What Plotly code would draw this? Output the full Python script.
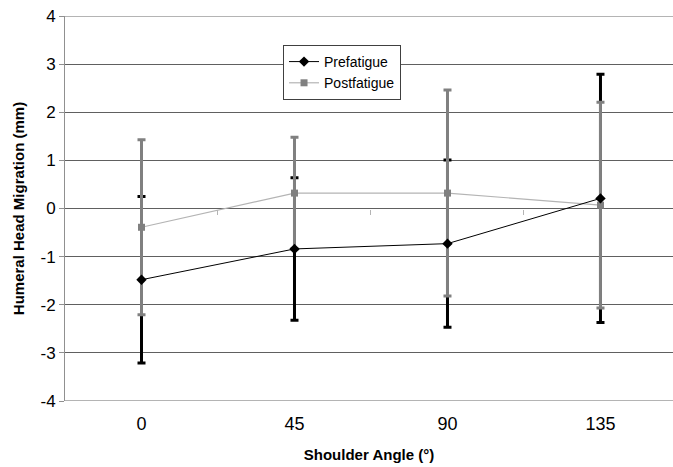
import plotly.graph_objects as go

categories = ["0", "45", "90", "135"]
pre_mean = [-1.48, -0.84, -0.73, 0.21]
pre_err = [1.73, 1.48, 1.74, 2.58]
post_mean = [-0.39, 0.32, 0.32, 0.07]
post_err = [1.82, 1.16, 2.14, 2.14]
y_ticks = [-4, -3, -2, -1, 0, 1, 2, 3, 4]
y_tick_labels = ["-4", "-3", "-2", "-1", "0", "1", "2", "3", "4"]

xpos = list(range(len(categories)))
FONT = "Arial, Liberation Sans, sans-serif"
BLACK = "#000000"
GRAY = "#808080"
LIGHT = "#b4b4b4"

fig = go.Figure()

# error bars (drawn first: black behind gray)
fig.add_trace(go.Scatter(
    x=xpos, y=pre_mean, mode="markers", marker=dict(opacity=0, size=1),
    error_y=dict(type="data", array=pre_err, visible=True, color=BLACK, thickness=3, width=4),
    showlegend=False, hoverinfo="skip"))
fig.add_trace(go.Scatter(
    x=xpos, y=post_mean, mode="markers", marker=dict(opacity=0, size=1),
    error_y=dict(type="data", array=post_err, visible=True, color=GRAY, thickness=3, width=4),
    showlegend=False, hoverinfo="skip"))

# lines + markers
fig.add_trace(go.Scatter(
    x=xpos, y=post_mean, mode="lines+markers", name="Postfatigue",
    line=dict(color=LIGHT, width=1.2),
    marker=dict(symbol="square", size=7, color=GRAY), legendrank=2))
fig.add_trace(go.Scatter(
    x=xpos, y=pre_mean, mode="lines+markers", name="Prefatigue",
    line=dict(color=BLACK, width=1),
    marker=dict(symbol="diamond", size=8, color=BLACK), legendrank=1))

# invisible trace for secondary axis at y=0 (category boundary ticks)
fig.add_trace(go.Scatter(x=[0], y=[0], xaxis="x2", mode="markers",
                         marker=dict(opacity=0), showlegend=False, hoverinfo="skip"))

xr = [-0.5, 3.474]
fig.update_layout(
    width=673, height=467,
    margin=dict(l=65, r=0, t=16, b=66),
    paper_bgcolor="white", plot_bgcolor="white",
    font=dict(family=FONT, color="#000000"),
    xaxis=dict(
        range=xr, tickvals=xpos, ticktext=categories,
        tickfont=dict(size=18, family=FONT), ticks="", showgrid=False,
        zeroline=False, showline=False, ticklabelstandoff=10,
        title=dict(text="<b>Shoulder Angle (°)</b>", font=dict(size=15, family=FONT), standoff=16),
    ),
    xaxis2=dict(
        range=xr, overlaying="x", anchor="free", position=0.5,
        tickvals=[0.5, 1.5, 2.5], ticks="outside", ticklen=5, tickcolor=LIGHT, tickwidth=1,
        showticklabels=False, showgrid=False, zeroline=False, showline=False,
    ),
    yaxis=dict(
        range=[-4, 4], tickvals=y_ticks, ticktext=y_tick_labels,
        tickfont=dict(size=17, family=FONT),
        showgrid=True, gridcolor="#606060", gridwidth=1,
        zeroline=False, showline=True, linecolor="#909090", linewidth=1,
        ticks="outside", ticklen=5, tickcolor="#909090",
        title=dict(text="<b>Humeral Head Migration (mm)</b>", font=dict(size=15, family=FONT), standoff=12),
    ),
    legend=dict(
        x=0.3586, y=0.9247, xanchor="left", yanchor="top",
        bordercolor="#404040", borderwidth=1, bgcolor="white",
        font=dict(size=14, family=FONT), itemwidth=30, tracegroupgap=0,
    ),
    shapes=[
        dict(type="line", xref="paper", yref="y", x0=0, x1=1, y0=4, y1=4,
             line=dict(color=LIGHT, width=2), layer="above"),
        dict(type="line", xref="paper", yref="y", x0=0, x1=1, y0=-4, y1=-4,
             line=dict(color=LIGHT, width=2), layer="above"),
    ],
)

fig.write_html("out.html", config={"displayModeBar": False},
               post_script="document.body.style.margin='0px';")
